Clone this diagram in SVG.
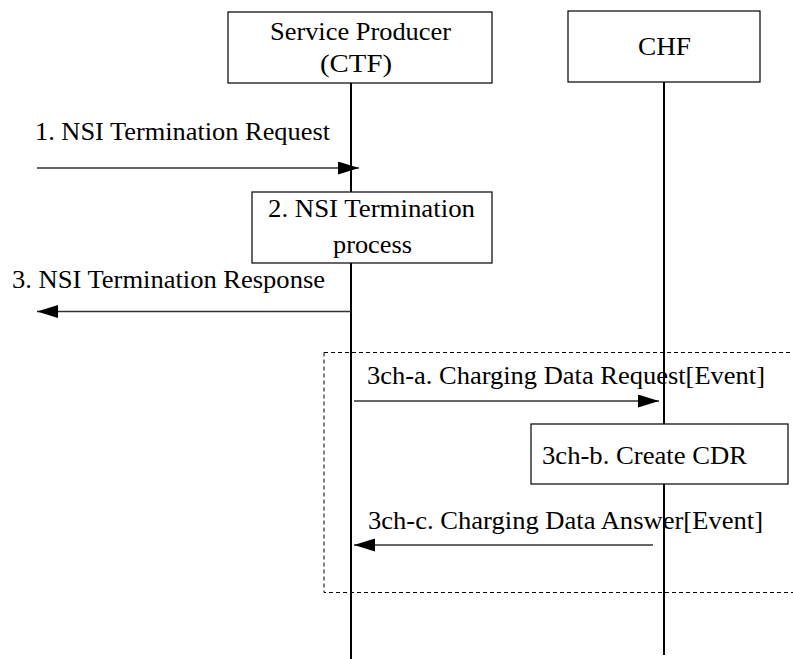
<svg xmlns="http://www.w3.org/2000/svg" width="793" height="659" viewBox="0 0 793 659">
<style>
  .box { fill: #fff; stroke: #000; stroke-width: 1.2; }
  .life { stroke: #000; stroke-width: 2; fill: none; }
  .msg { stroke: #333; stroke-width: 1.3; fill: none; }
  .frame { fill: none; stroke: #000; stroke-width: 1; stroke-dasharray: 4 3; }
  text { font-family: "Liberation Serif", "Times New Roman", serif; font-size: 25px; fill: #000; }
</style>
<defs>
  <marker id="arr" markerUnits="userSpaceOnUse" markerWidth="22" markerHeight="14" refX="21" refY="6.5" orient="auto">
    <path d="M0,0 L21,6.5 L0,13 z" fill="#000"/>
  </marker>
</defs>
<rect width="793" height="659" fill="#fff"/>
<g id="lifelines">
  <line class="life" x1="351" y1="83" x2="351" y2="659"/>
  <line class="life" x1="664" y1="82" x2="664" y2="655"/>
</g>
<g id="frame">
  <rect class="frame" x="324" y="352.5" width="490" height="240"/>
</g>
<g id="service-producer">
  <rect class="box" x="228" y="12" width="264" height="71"/>
  <text x="270" y="40" textLength="181" lengthAdjust="spacingAndGlyphs">Service Producer</text>
  <text x="320" y="72" textLength="72" lengthAdjust="spacingAndGlyphs">(CTF)</text>
</g>
<g id="chf">
  <rect class="box" x="568" y="11" width="192" height="71"/>
  <text x="638" y="55" textLength="53" lengthAdjust="spacingAndGlyphs">CHF</text>
</g>
<g id="step2">
  <rect class="box" x="252" y="192" width="240" height="71"/>
  <text x="268" y="217" textLength="207" lengthAdjust="spacingAndGlyphs">2. NSI Termination</text>
  <text x="333" y="253" textLength="79" lengthAdjust="spacingAndGlyphs">process</text>
</g>
<g id="step3ch-b">
  <rect class="box" x="531" y="424" width="257" height="60"/>
  <text x="542" y="464" textLength="205" lengthAdjust="spacingAndGlyphs">3ch-b. Create CDR</text>
</g>
<g id="connectors">
  <line class="msg" x1="37" y1="168" x2="359" y2="168" marker-end="url(#arr)"/>
  <line class="msg" x1="351" y1="311.5" x2="37" y2="311.5" marker-end="url(#arr)"/>
  <line class="msg" x1="354" y1="401" x2="659" y2="401" marker-end="url(#arr)"/>
  <line class="msg" x1="653" y1="545" x2="354" y2="545" marker-end="url(#arr)"/>
</g>
<g id="labels">
  <text x="35" y="140" textLength="295" lengthAdjust="spacingAndGlyphs">1. NSI Termination Request</text>
  <text x="12" y="288" textLength="313" lengthAdjust="spacingAndGlyphs">3. NSI Termination Response</text>
  <text x="367" y="384" textLength="398" lengthAdjust="spacingAndGlyphs">3ch-a. Charging Data Request[Event]</text>
  <text x="368" y="529" textLength="395" lengthAdjust="spacingAndGlyphs">3ch-c. Charging Data Answer[Event]</text>
</g>
</svg>
